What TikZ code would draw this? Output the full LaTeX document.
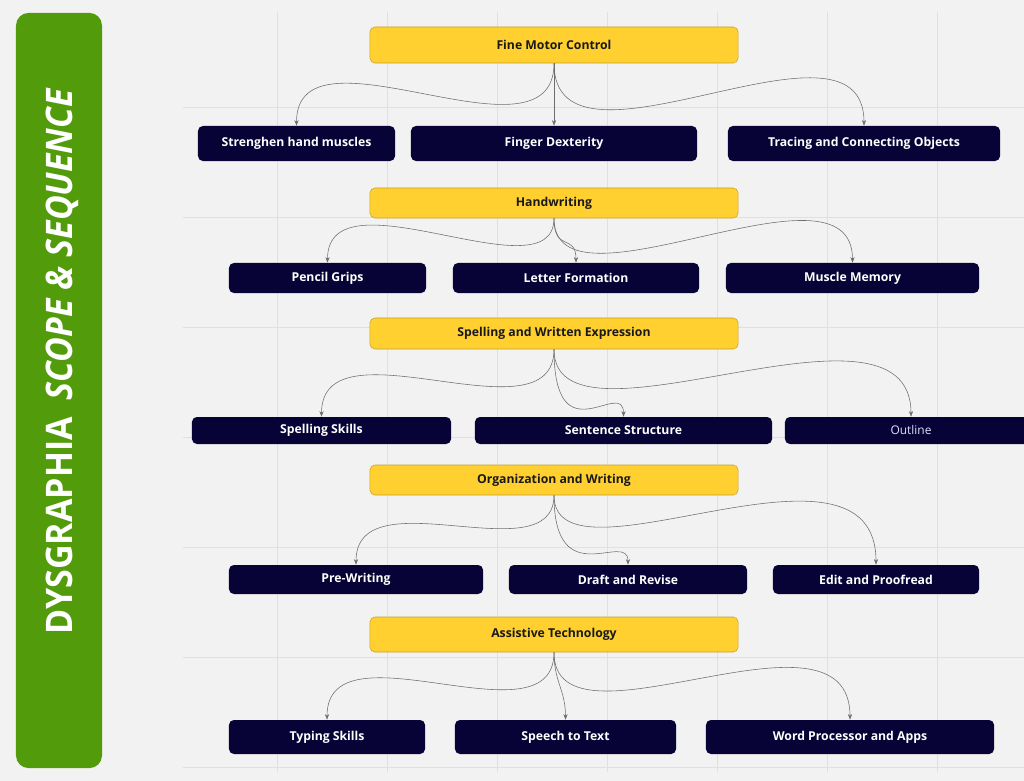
\documentclass[tikz,border=0pt]{standalone}
\usepackage{fontspec}
\setmainfont{Open Sans}
\usetikzlibrary{arrows.meta}

\definecolor{paper}{HTML}{F2F2F2}
\definecolor{gridline}{HTML}{E0E0E0}
\definecolor{bannergreen}{HTML}{529B0A}
\definecolor{topicfill}{HTML}{FFD02F}
\definecolor{topicedge}{HTML}{C9A227}
\definecolor{skillfill}{HTML}{070336}
\definecolor{linkgray}{HTML}{6E6E6E}

\begin{document}
\begin{tikzpicture}[
    x=0.025cm, y=-0.025cm,
    every node/.style={font=\fontsize{8.7}{10}\selectfont\bfseries},
    topic/.style={draw=topicedge, fill=topicfill, rounded corners=3.5pt, text=black!90, minimum width=9.2cm},
    skill/.style={fill=skillfill, rounded corners=3.5pt, text=white},
    link/.style={-{Stealth[length=4pt, width=3pt]}, draw=linkgray, line width=0.4pt}
]

\useasboundingbox (0,0) rectangle (1024,781);
\clip (0,0) rectangle (1024,781);
\fill[paper] (0,0) rectangle (1024,781);

% === BOARD GRID ===
\foreach \gx in {277,387,497,607,717,827,937}
    \draw[gridline, line width=0.6pt] (\gx,12) -- (\gx,772);
\foreach \gy in {107,217,327,437,547,657,767}
    \draw[gridline, line width=0.6pt] (183,\gy) -- (1024,\gy);

% === TITLE BANNER ===
\node [fill=bannergreen, rounded corners=9pt, minimum width=2.15cm, minimum height=18.875cm] (banner) at (59,390.5) {};
\node [rotate=90, text=white, font=\fontsize{26}{26}\selectfont\bfseries] (title) at (62,362)
    {\scalebox{0.93}[1]{DYSGRAPHIA\enspace\itshape SCOPE \& SEQUENCE}};

% === TOPICS ===
\node [topic, minimum height=0.9cm] (fmc) at (554,45) {Fine Motor Control};
\node [topic, minimum height=0.75cm] (handw) at (554,203) {Handwriting};
\node [topic, minimum height=0.775cm] (spell) at (554,333.5) {Spelling and Written Expression};
\node [topic, minimum height=0.75cm] (org) at (554,480) {Organization and Writing};
\node [topic, minimum height=0.875cm] (assist) at (554,634.5) {Assistive Technology};

% === SKILLS ===
\node [skill, minimum width=4.925cm, minimum height=0.875cm] (muscles) at (296.5,143.5) {Strenghen hand muscles};
\node [skill, minimum width=7.15cm, minimum height=0.875cm] (dexterity) at (554,143.5) {Finger Dexterity};
\node [skill, minimum width=6.8cm, minimum height=0.875cm] (tracing) at (864,143.5) {Tracing and Connecting Objects};

\node [skill, minimum width=4.925cm, minimum height=0.75cm] (grips) at (327.5,278) {Pencil Grips};
\node [skill, minimum width=6.15cm, minimum height=0.75cm] (letters) at (576,278) {Letter Formation};
\node [skill, minimum width=6.325cm, minimum height=0.75cm] (memory) at (852.5,278) {Muscle Memory};

\node [skill, minimum width=6.475cm, minimum height=0.675cm] (spellskills) at (321.5,430.5) {Spelling Skills};
\node [skill, minimum width=7.425cm, minimum height=0.675cm] (structure) at (623.5,430.5) {Sentence Structure};
\node [skill, minimum width=6.3cm, minimum height=0.675cm, font=\fontsize{8.5}{10}\selectfont, text=white!88!blue] (outline) at (911,430.5) {Outline};

\node [skill, minimum width=6.35cm, minimum height=0.725cm] (prewrite) at (356,579.5) {Pre-Writing};
\node [skill, minimum width=5.95cm, minimum height=0.725cm] (draft) at (628,579.5) {Draft and Revise};
\node [skill, minimum width=5.15cm, minimum height=0.725cm] (proofread) at (876,579.5) {Edit and Proofread};

\node [skill, minimum width=4.9cm, minimum height=0.85cm] (typing) at (327,737) {Typing Skills};
\node [skill, minimum width=5.525cm, minimum height=0.85cm] (speech) at (565.5,737) {Speech to Text};
\node [skill, minimum width=7.2cm, minimum height=0.85cm] (wordproc) at (850,737) {Word Processor and Apps};

% === CONNECTORS ===
\draw[link] (fmc.south) .. controls +(0,110) and +(0,-110) .. (muscles.north);
\draw[link] (fmc.south) -- (dexterity.north);
\draw[link] (fmc.south) .. controls +(0,130) and +(0,-130) .. (tracing.north);

\draw[link] (handw.south) .. controls +(0,80) and +(0,-95) .. (grips.north);
\draw[link] (handw.south) .. controls +(0,35) and +(0,-30) .. (letters.north);
\draw[link] (handw.south) .. controls +(0,105) and +(0,-115) .. (memory.north);

\draw[link] (spell.south) .. controls +(0,95) and +(0,-100) .. (spellskills.north);
\draw[link] (spell.south) .. controls +(0,110) and +(0,-40) .. (structure.north);
\draw[link] (spell.south) .. controls +(0,115) and +(0,-140) .. (outline.north);

\draw[link] (org.south) .. controls +(0,80) and +(0,-90) .. (prewrite.north);
\draw[link] (org.south) .. controls +(0,100) and +(0,-35) .. (draft.north);
\draw[link] (org.south) .. controls +(0,100) and +(0,-150) .. (proofread.north);

\draw[link] (assist.south) .. controls +(0,95) and +(0,-100) .. (typing.north);
\draw[link] (assist.south) .. controls +(0,30) and +(0,-30) .. (speech.north);
\draw[link] (assist.south) .. controls +(0,110) and +(0,-130) .. (wordproc.north);

\end{tikzpicture}
\end{document}
